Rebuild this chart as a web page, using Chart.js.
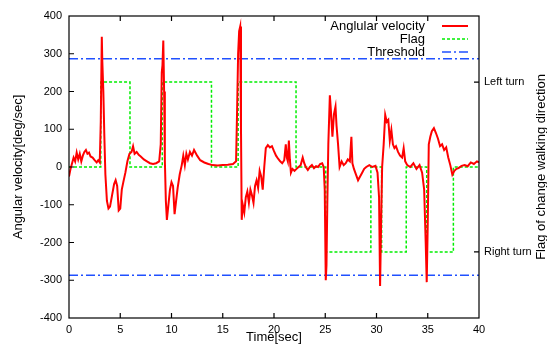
<!DOCTYPE html>
<html>
<head>
<meta charset="utf-8">
<script src="https://cdn.jsdelivr.net/npm/chart.js@4.4.1/dist/chart.umd.min.js"></script>
<style>
  html, body { margin: 0; padding: 0; background: #fff; }
  #wrap { width: 547px; height: 346px; }
</style>
</head>
<body>
<div id="wrap"><canvas id="grafico"></canvas></div>
<script>
// angular velocity samples [time sec, deg/sec]
const velocidad = [
  [0, -25], [0.15, -5], [0.3, 10], [0.45, 25], [0.6, 15], [0.75, 38], [0.9, 20],
  [1.05, 35], [1.2, 15], [1.35, 30], [1.5, 40], [1.65, 45], [1.8, 35], [1.95, 38],
  [2.1, 28], [2.3, 25], [2.5, 18], [2.7, 12], [2.85, 18], [3.0, 12], [3.1, 120],
  [3.2, 345], [3.25, 280], [3.35, 200], [3.45, 80], [3.55, -20], [3.7, -90],
  [3.85, -110], [4.0, -105], [4.2, -75], [4.4, -45], [4.55, -35], [4.7, -50],
  [4.85, -115], [5.0, -110], [5.15, -60], [5.3, -40], [5.5, -15], [5.7, 15],
  [5.9, 35], [6.1, 40], [6.25, 55], [6.4, 35], [6.6, 40], [6.8, 32], [7.0, 28],
  [7.3, 20], [7.6, 15], [7.9, 10], [8.2, 8], [8.5, 10], [8.8, 15], [8.95, 60],
  [9.05, 250], [9.12, 270], [9.2, 335], [9.28, 200], [9.35, 20], [9.45, -90],
  [9.55, -140], [9.7, -100], [9.85, -60], [10.0, -40], [10.15, -50], [10.3, -125],
  [10.45, -90], [10.6, -55], [10.8, -20], [11.0, 5], [11.15, 30], [11.3, 5],
  [11.45, 35], [11.6, 20], [11.8, 40], [12.0, 30], [12.2, 45], [12.5, 30],
  [12.8, 18], [13.2, 12], [13.6, 8], [14.0, 5], [14.5, 4], [15.0, 5], [15.5, 6],
  [16.0, 8], [16.3, 15], [16.4, 150], [16.5, 300], [16.6, 360], [16.7, 372],
  [16.78, 100], [16.85, -140], [16.95, -100], [17.1, -120], [17.25, -80],
  [17.4, -65], [17.55, -95], [17.7, -60], [17.85, -75], [18.0, -95], [18.15, -50],
  [18.3, -35], [18.45, -55], [18.6, -10], [18.75, -25], [18.9, -60], [19.05, 0],
  [19.2, 50], [19.4, 58], [19.6, 52], [19.8, 55], [20.0, 42], [20.2, 30],
  [20.4, 22], [20.6, 15], [20.8, 10], [21.0, 18], [21.15, 60], [21.25, 25],
  [21.35, 15], [21.45, 70], [21.55, 20], [21.65, -15], [21.8, -5], [22.0, -10],
  [22.2, -5], [22.4, 0], [22.6, 5], [22.8, 25], [22.95, 10], [23.1, 0],
  [23.3, -8], [23.5, 0], [23.7, 5], [23.9, -3], [24.1, 2], [24.3, 0], [24.5, 8],
  [24.7, 10], [24.85, 0], [24.95, -60], [25.05, -300], [25.12, -260],
  [25.2, -100], [25.3, 60], [25.45, 190], [25.55, 150], [25.7, 80], [25.85, 140],
  [26.0, 160], [26.1, 110], [26.25, 60], [26.4, 0], [26.6, 15], [26.8, 5],
  [27.0, 10], [27.2, 20], [27.4, 15], [27.55, 80], [27.65, 10], [27.8, -5],
  [28.0, -20], [28.2, -35], [28.4, -25], [28.6, -15], [28.8, -5], [29.0, 0],
  [29.3, 5], [29.6, 0], [29.9, 3], [30.1, -15], [30.25, -80], [30.35, -315],
  [30.45, -150], [30.55, 0], [30.7, 60], [30.85, 138], [31.0, 120], [31.15, 125],
  [31.3, 70], [31.45, 98], [31.6, 60], [31.75, 50], [31.9, 55], [32.1, 40],
  [32.3, 30], [32.5, 25], [32.65, 50], [32.8, 15], [33.0, 5], [33.3, 0],
  [33.6, 10], [33.9, -5], [34.2, 5], [34.45, -15], [34.65, -60], [34.8, -200],
  [34.9, -305], [35.0, -150], [35.1, 60], [35.25, 80], [35.4, 95], [35.6, 103],
  [35.8, 90], [36.0, 75], [36.2, 55], [36.4, 60], [36.6, 45], [36.8, 52],
  [37.0, 25], [37.2, 5], [37.4, -20], [37.6, -10], [37.8, -5], [38.0, -3],
  [38.3, 3], [38.6, 5], [38.9, 2], [39.2, 12], [39.5, 8], [39.8, 15], [40.0, 12]
];

// flag: 1 = left turn, -1 = right turn, 0 = none
const flagTiempo = [0, 3.1, 3.1, 5.95, 5.95, 9.1, 9.1, 13.9, 13.9, 16.5, 16.5, 22.15, 22.15,
  25.05, 25.05, 29.45, 29.45, 30.5, 30.5, 32.9, 32.9, 34.9, 34.9, 37.5, 37.5, 40];
const flagValor = [0, 0, 1, 1, 0, 0, 1, 1, 0, 0, 1, 1, 0,
  0, -1, -1, 0, 0, -1, -1, 0, 0, -1, -1, 0, 0];

const umbral = 287;
const tiempoLimites = [0, 40];
const etiquetasFlag = { "1": "Left turn", "-1": "Right turn" };

const fuente = "'Liberation Sans', Arial, sans-serif";
const rojo = "#ff0000";
const verde = "#00ee00";
const azul = "#2050ff";
const dashAzul = [9, 3, 2, 3];
const dashVerde = [3, 2];

// frame, inward ticks, titles and legend in gnuplot style
const marcoPlugin = {
  id: "marco",
  afterDatasetsDraw(chart) {
    const { ctx, chartArea: a, scales } = chart;
    ctx.save();
    ctx.strokeStyle = "#000";
    ctx.lineWidth = 1.2;
    ctx.strokeRect(a.left, a.top, a.right - a.left, a.bottom - a.top);
    ctx.beginPath();
    for (let v = 5; v < 40; v += 5) {
      const x = scales.x.getPixelForValue(v);
      ctx.moveTo(x, a.bottom); ctx.lineTo(x, a.bottom - 5);
      ctx.moveTo(x, a.top); ctx.lineTo(x, a.top + 5);
    }
    for (let v = -300; v <= 300; v += 100) {
      const y = scales.y.getPixelForValue(v);
      ctx.moveTo(a.left, y); ctx.lineTo(a.left + 5, y);
    }
    [-1, 1].forEach((v) => {
      const y = scales.y2.getPixelForValue(v);
      ctx.moveTo(a.right, y); ctx.lineTo(a.right - 5, y);
    });
    ctx.stroke();

    // axis titles
    ctx.fillStyle = "#000";
    ctx.font = "13px " + fuente;
    ctx.textAlign = "center";
    ctx.textBaseline = "middle";
    ctx.fillText("Time[sec]", (a.left + a.right) / 2, 337);
    const cy = (a.top + a.bottom) / 2;
    ctx.save();
    ctx.translate(18, cy);
    ctx.rotate(-Math.PI / 2);
    ctx.fillText("Angular velocity[deg/sec]", 0, 0);
    ctx.restore();
    ctx.save();
    ctx.translate(541, cy);
    ctx.rotate(-Math.PI / 2);
    ctx.fillText("Flag of change walking direction", 0, 0);
    ctx.restore();

    // legend
    const items = [
      ["Anglular velocity", rojo, [], 2],
      ["Flag", verde, dashVerde, 1.5],
      ["Threshold", azul, dashAzul, 1.5],
    ];
    ctx.textAlign = "right";
    items.forEach((it, i) => {
      const y = 26 + i * 13;
      ctx.fillStyle = "#000";
      ctx.fillText(it[0], 425, y);
      ctx.beginPath();
      ctx.strokeStyle = it[1];
      ctx.lineWidth = it[3];
      ctx.setLineDash(it[2]);
      ctx.moveTo(442, y); ctx.lineTo(468, y);
      ctx.stroke();
    });
    ctx.restore();
  },
};

const puntos = velocidad.map((p) => ({ x: p[0], y: p[1] }));
const puntosFlag = flagTiempo.map((t, i) => ({ x: t, y: flagValor[i] }));

new Chart(document.getElementById("grafico"), {
  type: "line",
  data: {
    datasets: [
      {
        label: "Anglular velocity",
        data: puntos,
        borderColor: rojo,
        borderWidth: 2,
        pointRadius: 0,
        tension: 0,
        yAxisID: "y",
      },
      {
        label: "Flag",
        data: puntosFlag,
        borderColor: verde,
        borderWidth: 1.5,
        borderDash: dashVerde,
        pointRadius: 0,
        yAxisID: "y2",
      },
      {
        label: "Threshold",
        data: tiempoLimites.map((t) => ({ x: t, y: umbral })),
        borderColor: azul,
        borderWidth: 1.5,
        borderDash: dashAzul,
        pointRadius: 0,
        yAxisID: "y",
      },
      {
        label: "Threshold",
        data: tiempoLimites.map((t) => ({ x: t, y: -umbral })),
        borderColor: azul,
        borderWidth: 1.5,
        borderDash: dashAzul,
        pointRadius: 0,
        yAxisID: "y",
      },
    ],
  },
  options: {
    responsive: true,
    maintainAspectRatio: false,
    animation: false,
    layout: { padding: { top: 16, left: 0, right: 0, bottom: 0 } },
    plugins: { legend: { display: false }, tooltip: { enabled: false } },
    scales: {
      x: {
        type: "linear",
        min: 0,
        max: 40,
        grid: { display: false, drawTicks: false },
        border: { display: false },
        ticks: { stepSize: 5, color: "#000", padding: 5, maxRotation: 0, font: { size: 11, family: fuente } },
        afterFit: (s) => { s.height = 28; },
      },
      y: {
        position: "left",
        min: -400,
        max: 400,
        grid: { display: false, drawTicks: false },
        border: { display: false },
        ticks: { stepSize: 100, color: "#000", padding: 7, font: { size: 11, family: fuente } },
        afterFit: (s) => { s.width = 69; },
      },
      y2: {
        position: "right",
        min: -16 / 9,
        max: 16 / 9,
        grid: { display: false, drawTicks: false },
        border: { display: false },
        afterBuildTicks: (s) => { s.ticks = [{ value: -1 }, { value: 1 }]; },
        ticks: {
          color: "#000",
          padding: 5,
          font: { size: 11, family: fuente },
          callback: (v) => etiquetasFlag[String(v)] || "",
        },
        afterFit: (s) => { s.width = 68; },
      },
    },
  },
  plugins: [marcoPlugin],
});
</script>
</body>
</html>
